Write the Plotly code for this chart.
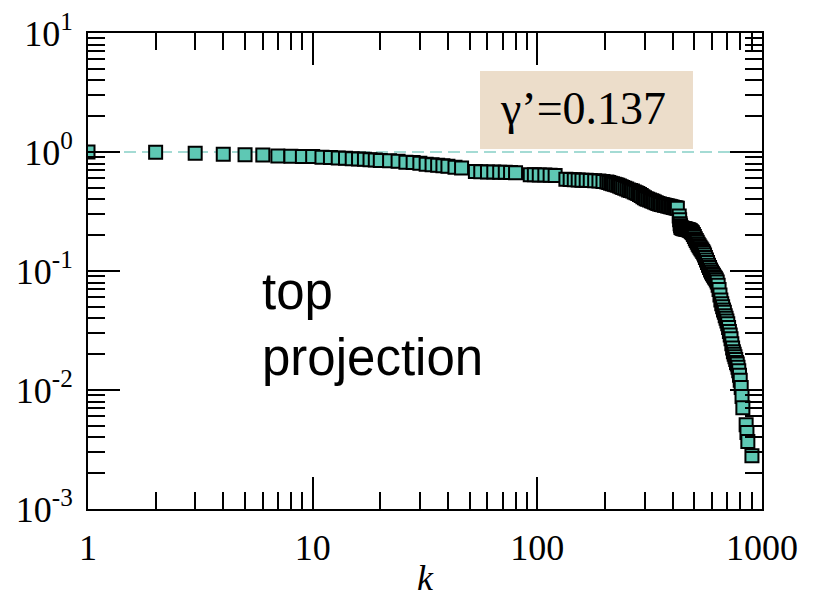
import plotly.graph_objects as go

# ---- data ----
k_vals = [1, 2, 3, 4, 5, 6, 7, 8, 9, 10, 11, 12, 13, 14, 15, 16, 17, 18, 19, 20,
          22, 24, 26, 28, 30, 32, 34, 36, 38, 40, 43, 46,
          53, 56, 60, 64, 68, 72, 76, 80,
          93, 97, 102, 108, 114, 120,
          134, 140, 146, 152, 158, 165, 172, 180, 188, 196,
          204, 208, 212, 216, 220, 224, 228, 232, 236, 240, 245, 250, 255, 260, 265, 270,
          275, 280, 285, 290, 295, 300, 305, 310, 316, 322, 327, 332, 338, 344, 350, 356,
          362, 368, 374, 380, 386, 392, 398, 404, 410, 415, 420,
          428, 430, 432, 434, 436, 440, 444, 448, 452, 456, 460, 465, 470, 475, 480, 485,
          490, 495, 500, 505, 510, 515, 520, 525, 530, 535, 540, 545, 550, 555, 560, 566,
          572, 578, 584, 590, 596, 602, 608, 614, 620, 626, 632, 638, 644, 650, 656, 662,
          668, 674, 680, 686, 692, 698, 704, 710, 716, 722, 728, 734, 740, 746, 752, 758,
          764, 770, 776, 782, 788, 794, 800, 808, 815, 822, 850, 857, 865, 902]
p_vals = [1.0, 0.994, 0.975, 0.958, 0.949, 0.942, 0.925, 0.92, 0.918, 0.915,
          0.905, 0.9, 0.89, 0.885, 0.876, 0.872, 0.87, 0.862, 0.858, 0.85,
          0.845, 0.835, 0.822, 0.815, 0.805, 0.79, 0.78, 0.775, 0.768, 0.76, 0.745, 0.735,
          0.685, 0.682, 0.68, 0.678, 0.676, 0.675, 0.673, 0.67,
          0.645, 0.643, 0.641, 0.64, 0.638, 0.636,
          0.59, 0.586, 0.584, 0.582, 0.58, 0.578, 0.575, 0.572, 0.57, 0.566,
          0.56, 0.553, 0.545, 0.54, 0.535, 0.53, 0.525, 0.518, 0.51, 0.503, 0.495, 0.488,
          0.48, 0.475, 0.47, 0.462,
          0.455, 0.448, 0.44, 0.43, 0.42, 0.412, 0.405, 0.4, 0.395, 0.39, 0.385, 0.38,
          0.375, 0.37, 0.365, 0.362,
          0.36, 0.357, 0.355, 0.352, 0.35, 0.347, 0.345, 0.342, 0.34, 0.338, 0.336,
          0.29, 0.27, 0.25, 0.24, 0.232, 0.23, 0.228, 0.227, 0.226, 0.225, 0.224, 0.223,
          0.222, 0.22, 0.218, 0.214,
          0.21, 0.203, 0.195, 0.187, 0.18, 0.174, 0.168, 0.163, 0.158, 0.154, 0.15, 0.146,
          0.142, 0.136, 0.13, 0.124,
          0.118, 0.112, 0.107, 0.102, 0.098, 0.095, 0.092, 0.089, 0.087, 0.084, 0.081, 0.076,
          0.07, 0.063, 0.057, 0.053,
          0.05, 0.047, 0.045, 0.042, 0.04, 0.038, 0.036, 0.0335, 0.031, 0.029, 0.027, 0.0245,
          0.0225, 0.021, 0.02, 0.019,
          0.018, 0.017, 0.0165, 0.0155, 0.0145, 0.0133, 0.0121, 0.0105, 0.0088, 0.0071,
          0.0051, 0.0044, 0.0037, 0.0028]

ref_k = [1, 1000]
ref_p = [1.0, 1.0]

x_tickvals = [1, 10, 100, 1000]
x_ticktext = ["1", "10", "100", "1000"]
y_tickvals = [0.001, 0.01, 0.1, 1, 10]
y_ticktext = ["10<sup>-3</sup>", "10<sup>-2</sup>", "10<sup>-1</sup>", "10<sup>0</sup>", "10<sup>1</sup>"]

gamma_label = "γ’=0.137"
panel_label = "top<br>projection"

SERIF = "Liberation Serif, Times New Roman, serif"
SANS = "Liberation Sans, Arial, sans-serif"

# minor tick positions (2..9 within each decade)
x_minor = [m * 10 ** d for d in range(0, 3) for m in range(2, 10)]
y_minor = [m * 10.0 ** d for d in range(-3, 1) for m in range(2, 10)]

fig = go.Figure()
fig.add_trace(go.Scatter(
    x=ref_k, y=ref_p, mode="lines",
    line=dict(color="#86d0c6", width=1.5, dash="12px,6px"),
    hoverinfo="skip", showlegend=False))
fig.add_trace(go.Scatter(
    x=k_vals, y=p_vals, mode="markers",
    marker=dict(symbol="square", size=13, color="#5ec8b4",
                line=dict(color="black", width=2)),
    showlegend=False))

axis_common = dict(
    type="log", showgrid=False, zeroline=False, automargin=False,
    showline=True, linecolor="black", linewidth=2,
    mirror="ticks", ticks="inside", ticklen=32, tickwidth=2, tickcolor="black",
    tickfont=dict(family=SERIF, size=36, color="black"),
)

fig.update_xaxes(**axis_common, range=[0, 3],
                 tickmode="array", tickvals=x_tickvals, ticktext=x_ticktext,
                 minor=dict(ticks="inside", ticklen=17, tickwidth=2, tickcolor="black",
                            tickmode="array", tickvals=x_minor, showgrid=False),
                 ticklabelstandoff=6,
                 title=dict(text="<i>k</i>", font=dict(family=SERIF, size=36, color="black"),
                            standoff=4))
fig.update_yaxes(**axis_common, range=[-3, 1],
                 tickmode="array", tickvals=y_tickvals, ticktext=y_ticktext,
                 minor=dict(ticks="inside", ticklen=17, tickwidth=2, tickcolor="black",
                            tickmode="array", tickvals=y_minor, showgrid=False),
                 ticklabelstandoff=6)

fig.add_shape(type="rect", xref="paper", yref="paper",
              x0=0.5816, x1=0.8976, y0=0.7563, y1=0.9202,
              fillcolor="#ecddca", line=dict(width=0), layer="below")
fig.add_annotation(xref="paper", yref="paper", x=0.735, y=0.842,
                   text=gamma_label, showarrow=False,
                   font=dict(family=SERIF, size=46, color="black"),
                   xanchor="center", yanchor="middle")
fig.add_annotation(xref="paper", yref="paper", x=0.2552, y=0.521,
                   text=panel_label, showarrow=False, align="left",
                   font=dict(family=SANS, size=51, color="black"),
                   xanchor="left", yanchor="top")

fig.update_layout(
    width=813, height=598,
    margin=dict(l=88, r=51, t=33, b=89, autoexpand=False),
    paper_bgcolor="white", plot_bgcolor="white",
    hovermode=False,
)

fig.write_html("out.html")
